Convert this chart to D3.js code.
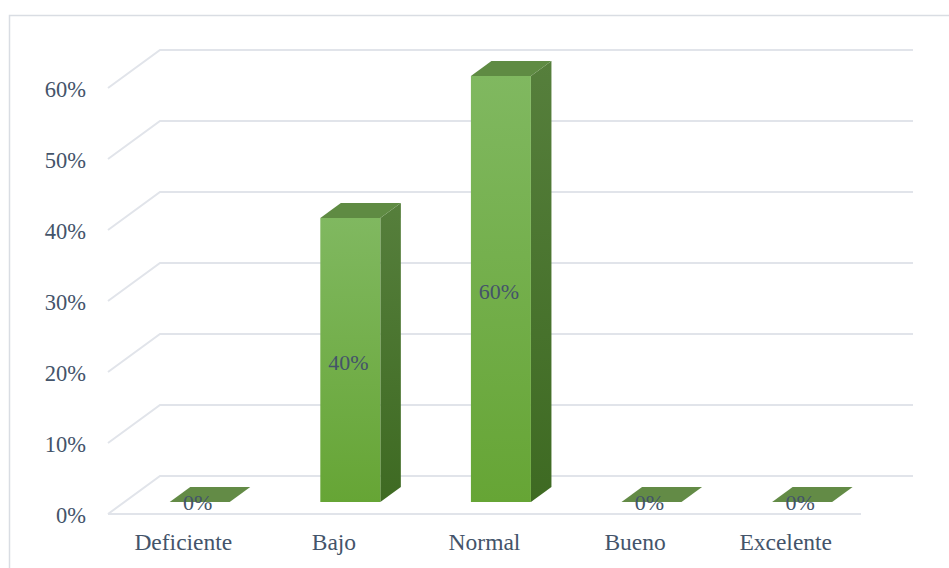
<!DOCTYPE html>
<html>
<head>
<meta charset="utf-8">
<script src="https://cdn.jsdelivr.net/npm/d3@7"></script>
<style>
  html, body { margin: 0; padding: 0; background: #fff; }
  svg { display: block; }
</style>
</head>
<body>
<svg id="chart" width="949" height="568"></svg>
<script>
// ---- data ----
const categories = ["Deficiente", "Bajo", "Normal", "Bueno", "Excelente"];
const values = [0, 0.40, 0.60, 0, 0];
const yTicks = [0, 0.1, 0.2, 0.3, 0.4, 0.5, 0.6];

// ---- layout ----
const W = 949, H = 568;
const FONT = "'Liberation Serif', 'Times New Roman', serif";
const TEXT_COLOR = "#44546a";
const frontLeft = 108, frontRight = 861, floorFrontY = 514;
const depthX = 52, depthY = 38;           // oblique offset of the back wall
const barFrontDepth = 12 / 38, barBackDepth = 27 / 38;

const svg = d3.select("#chart");

// outer chart border
svg.append("rect")
  .attr("x", 9.5).attr("y", 15.5).attr("width", W + 10).attr("height", H)
  .attr("fill", "none").attr("stroke", "#d9dde3").attr("stroke-width", 1.5);

const x = d3.scaleBand().domain(categories).range([frontLeft, frontRight]).paddingInner(0).paddingOuter(0);
// y scale on the front plane
const y = d3.scaleLinear().domain([0, 0.6]).range([floorFrontY, floorFrontY - 426]);

// project a point at front-plane coordinates (px, py) to depth d (0 = front, 1 = back)
const P = (px, py, d) => [px + depthX * d, py - depthY * d];

// gridlines: diagonal on the left wall + horizontal on the back wall
const grid = svg.append("g");
yTicks.forEach(t => {
  const a = P(frontLeft, y(t), 0), b = P(frontLeft, y(t), 1), c = P(frontRight, y(t), 1);
  grid.append("polyline")
    .attr("points", [a, b, c].map(p => p.join(",")).join(" "))
    .attr("fill", "none").attr("stroke", "#e1e4ea").attr("stroke-width", 2);
});
// floor front edge
grid.append("line")
  .attr("x1", frontLeft).attr("x2", frontRight)
  .attr("y1", floorFrontY).attr("y2", floorFrontY)
  .attr("stroke", "#e1e4ea").attr("stroke-width", 2);

// gradients
const defs = svg.append("defs");
const gF = defs.append("linearGradient").attr("id", "gFront").attr("x1", 0).attr("y1", 0).attr("x2", 0).attr("y2", 1);
gF.append("stop").attr("offset", "0%").attr("stop-color", "#80b860");
gF.append("stop").attr("offset", "100%").attr("stop-color", "#66a535");
const gS = defs.append("linearGradient").attr("id", "gSide").attr("x1", 0).attr("y1", 0).attr("x2", 0).attr("y2", 1);
gS.append("stop").attr("offset", "0%").attr("stop-color", "#567f3c");
gS.append("stop").attr("offset", "100%").attr("stop-color", "#3e6a22");

// bars
const barW = 60;
const bars = svg.append("g");
categories.forEach((c, i) => {
  const v = values[i];
  const cx = x(c) + x.bandwidth() / 2;
  const x0 = cx - barW / 2, x1 = cx + barW / 2;
  const yt = y(v), yb = y(0);
  const f = barFrontDepth, k = barBackDepth;
  const poly = pts => pts.map(p => p.join(",")).join(" ");
  if (v > 0) {
    bars.append("polygon")
      .attr("points", poly([P(x1, yt, f), P(x1, yt, k), P(x1, yb, k), P(x1, yb, f)]))
      .attr("fill", "url(#gSide)");
    const a = P(x0, yt, f), b = P(x1, yb, f);
    bars.append("rect")
      .attr("x", a[0]).attr("y", a[1]).attr("width", b[0] - a[0]).attr("height", b[1] - a[1])
      .attr("fill", "url(#gFront)");
  }
  bars.append("polygon")
    .attr("points", poly([P(x0, yt, f), P(x1, yt, f), P(x1, yt, k), P(x0, yt, k)]))
    .attr("fill", v > 0 ? "#5f8b43" : "#638b46");
});

// data labels
svg.append("g").selectAll("text").data(categories).join("text")
  .attr("x", (c) => P(x(c) + x.bandwidth() / 2, 0, barFrontDepth)[0] - 2)
  .attr("y", (c, i) => P(0, (y(values[i]) + y(0)) / 2, barFrontDepth)[1] + (values[i] > 0 ? 10 : 8))
  .attr("text-anchor", "middle")
  .style("font-family", FONT)
  .style("font-size", "22px")
  .style("fill", TEXT_COLOR)
  .text((c, i) => d3.format(".0%")(values[i]));

// y axis labels
const yAxis = d3.axisLeft(y).tickValues(yTicks).tickFormat(d3.format(".0%")).tickSize(0).tickPadding(22);
const ya = svg.append("g").attr("transform", `translate(${frontLeft},1.5)`).call(yAxis);
ya.select(".domain").remove();
ya.attr("font-family", null).attr("font-size", null);
ya.selectAll("text")
  .style("font-family", FONT).style("font-size", "22.5px").style("fill", TEXT_COLOR);

// x axis labels
const xAxis = d3.axisBottom(x).tickSize(0).tickPadding(19.5);
const xa = svg.append("g").attr("transform", `translate(0,${floorFrontY})`).call(xAxis);
xa.select(".domain").remove();
xa.attr("font-family", null).attr("font-size", null);
xa.selectAll("text")
  .style("font-family", FONT).style("font-size", "23.5px").style("fill", TEXT_COLOR);
</script>
</body>
</html>
